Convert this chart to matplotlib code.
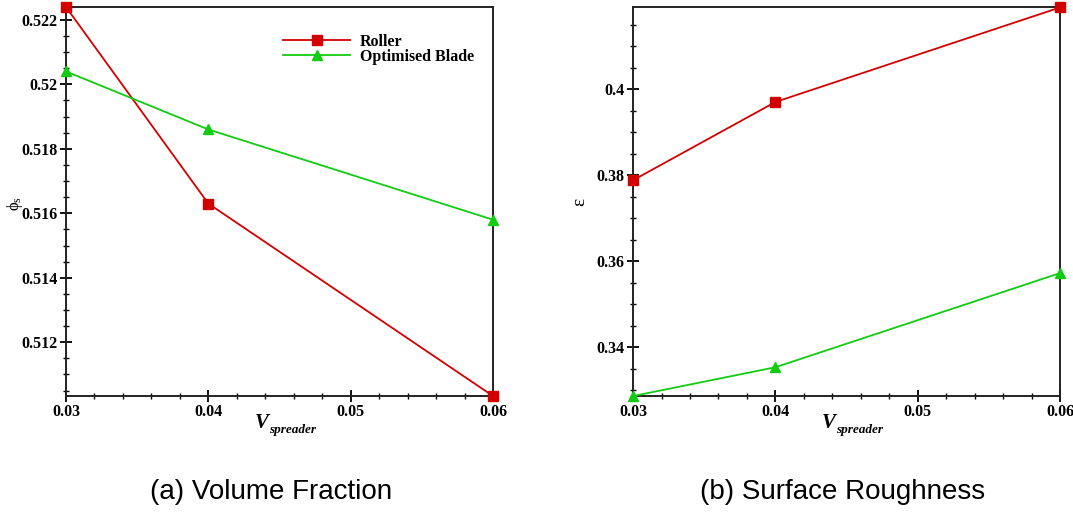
import matplotlib.pyplot as plt
from matplotlib.ticker import MultipleLocator

# spreader speed and measured results
v_spreader = [0.03, 0.04, 0.06]
phi_roller = [0.5224, 0.5163, 0.51033]
phi_blade = [0.5204, 0.5186, 0.5158]
eps_roller = [0.3788, 0.3970, 0.4190]
eps_blade = [0.3286, 0.3353, 0.3572]

red = '#d40000'
green = '#11cc11'
serif = 'Liberation Serif'

fig = plt.figure(figsize=(10.73, 5.13), dpi=100)
ax1 = fig.add_axes([0.0615, 0.228, 0.398, 0.7584])
ax2 = fig.add_axes([0.590, 0.228, 0.398, 0.7584])


def style_axes(ax):
    for s in ax.spines.values():
        s.set_linewidth(1.4)
        s.set_color('#222222')
    ax.tick_params(which='major', direction='inout', length=9, width=1.3,
                   top=False, right=False, pad=1.5)
    ax.tick_params(which='minor', direction='inout', length=5, width=1.0,
                   top=False, right=False)
    ax.set_xlim(0.03, 0.06)
    ax.xaxis.set_minor_locator(MultipleLocator(0.002))
    ax.set_xticks([0.03, 0.04, 0.05, 0.06], ['0.03', '0.04', '0.05', '0.06'])
    for lab in ax.get_xticklabels() + ax.get_yticklabels():
        lab.set_fontfamily(serif)
        lab.set_fontweight('bold')
        lab.set_fontsize(11.5)
    ax.text(0.475, -0.07, 'V', transform=ax.transAxes, ha='right',
            va='center', family=serif, weight='bold', style='italic',
            fontsize=15)
    ax.text(0.475, -0.088, 'spreader', transform=ax.transAxes, ha='left',
            va='center', family=serif, weight='bold', style='italic',
            fontsize=9.5)


# (a) volume fraction
ax1.plot(v_spreader, phi_roller, '-s', color=red, lw=1.3, ms=7,
         label='Roller', clip_on=False, zorder=3)
ax1.plot(v_spreader, phi_blade, '-^', color=green, lw=1.3, ms=7,
         label='Optimised Blade', clip_on=False, zorder=3)
ax1.set_ylim(0.51033, 0.5224)
ax1.set_yticks([0.512, 0.514, 0.516, 0.518, 0.52, 0.522],
               ['0.512', '0.514', '0.516', '0.518', '0.52', '0.522'])
ax1.yaxis.set_minor_locator(MultipleLocator(0.0005))
style_axes(ax1)
ax1.text(-0.12, 0.495, r'$\mathregular{\phi_s}$', transform=ax1.transAxes,
         rotation=90, ha='center', va='center', family=serif, fontsize=12)
ax1.legend(loc='upper left', bbox_to_anchor=(0.475, 0.968), frameon=False,
           handlelength=4.2, handletextpad=0.6, labelspacing=-0.05,
           prop={'family': serif, 'weight': 'bold', 'size': 11.5})

# (b) surface roughness
ax2.plot(v_spreader, eps_roller, '-s', color=red, lw=1.3, ms=7,
         clip_on=False, zorder=3)
ax2.plot(v_spreader, eps_blade, '-^', color=green, lw=1.3, ms=7,
         clip_on=False, zorder=3)
ax2.set_ylim(0.3286, 0.4191)
ax2.set_yticks([0.34, 0.36, 0.38, 0.4], ['0.34', '0.36', '0.38', '0.4'])
ax2.yaxis.set_minor_locator(MultipleLocator(0.005))
style_axes(ax2)
ax2.text(-0.124, 0.499, 'ε', transform=ax2.transAxes, rotation=90,
         ha='center', va='center', family=serif, fontsize=14)

fig.text(0.2526, 0.04, '(a) Volume Fraction', ha='center', va='center',
         family='Liberation Sans', fontsize=20)
fig.text(0.785, 0.04, '(b) Surface Roughness', ha='center', va='center',
         family='Liberation Sans', fontsize=20)

fig.savefig('out.png', dpi=100)
